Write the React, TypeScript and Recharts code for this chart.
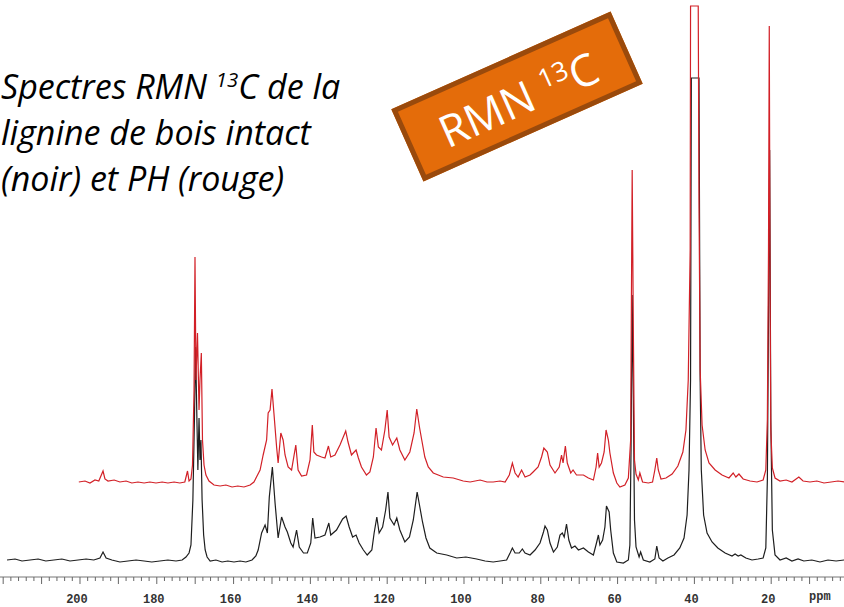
import React from 'react';
import { LineChart, Line, XAxis, YAxis } from 'recharts';

// 13C NMR spectra: [ppm, intensity above own baseline (a.u.)]
// intact wood lignin (black)
const BLACK: [number, number][] = [
  [219.0, 1], [216.9, 2], [215.1, 0], [213.0, 1], [210.9, 2], [208.9, 0], [206.8, 1], [204.7, 2],
  [202.6, 0], [200.5, 1], [198.4, 2], [196.4, 1], [194.8, 3], [194.0, 9], [193.2, 3], [191.7, 1],
  [189.6, -1], [187.5, 0], [185.4, 1], [183.3, 0], [181.3, -1], [179.2, 0], [177.1, 1], [175.0, 0],
  [173.4, 1], [172.4, 4], [171.6, 8], [171.1, 16], [170.6, 61], [170.2, 141], [169.9, 214], [169.5, 131],
  [169.3, 91], [169.0, 143], [168.75, 101], [168.5, 121], [168.2, 61], [167.8, 26], [167.4, 11], [166.9, 4],
  [166.1, 0], [164.6, 1], [163.0, -1], [161.5, 0], [159.9, -1], [158.3, 0], [156.8, -1], [155.2, 1],
  [154.2, 5], [153.6, 11], [152.7, 28], [151.8, 36], [151.2, 28], [150.7, 64], [149.9, 94], [149.2, 58],
  [148.4, 23], [147.5, 44], [146.6, 34], [146.0, 29], [145.1, 18], [144.5, 14], [143.6, 31], [142.9, 14],
  [141.8, 8], [140.8, 8], [139.9, 18], [139.4, 43], [138.8, 23], [137.5, 24], [136.2, 26], [135.2, 38],
  [134.7, 26], [133.2, 31], [131.6, 42], [130.7, 45], [129.9, 34], [129.0, 24], [128.1, 26], [127.3, 18],
  [126.2, 11], [125.2, 6], [124.0, 11], [123.4, 28], [122.7, 44], [122.1, 28], [121.2, 34], [120.4, 51],
  [119.8, 69], [119.3, 43], [118.2, 36], [117.5, 43], [116.7, 31], [115.4, 19], [114.2, 24], [113.2, 41],
  [112.2, 69], [111.5, 54], [110.8, 39], [109.9, 23], [108.9, 13], [107.1, 8], [104.5, 6], [101.9, 3],
  [99.5, 4], [96.7, 2], [94.5, 0], [92.4, -1], [90.6, 0], [88.9, 1], [88.0, 8], [87.4, 13],
  [86.7, 8], [85.6, 8], [84.8, 12], [84.1, 8], [82.8, 6], [81.5, 11], [80.2, 18], [79.3, 29],
  [78.9, 35], [78.3, 31], [77.6, 18], [76.7, 9], [75.7, 14], [75.0, 26], [74.4, 28], [73.9, 24],
  [73.3, 37], [72.7, 21], [72.0, 13], [71.1, 15], [70.2, 11], [68.9, 13], [67.6, 9], [66.3, 6],
  [65.5, 18], [65.0, 26], [64.6, 16], [63.9, 21], [63.3, 34], [62.9, 55], [62.2, 49], [61.8, 31],
  [61.1, 8], [60.2, -1], [58.5, -2], [57.2, 1], [56.8, 16], [56.5, 111], [56.2, 266], [55.9, 161],
  [55.6, 41], [55.2, 14], [54.4, 4], [54.0, 9], [53.3, 1], [51.6, -1], [50.3, 2], [49.8, 15],
  [49.2, 3], [48.2, 0], [46.9, 3], [45.3, 6], [43.8, 13], [42.7, 23], [41.9, 46], [41.4, 91],
  [41.0, 181], [40.8, 483], [38.8, 483], [38.5, 181], [38.2, 91], [37.6, 46], [36.7, 28], [35.4, 19],
  [33.9, 13], [32.0, 8], [30.2, 5], [29.4, 7], [28.6, 5], [27.9, 6], [26.6, 3], [25.0, 1],
  [23.4, 2], [22.1, 3], [21.4, 13], [21.0, 81], [20.4, 411], [20.1, 141], [19.7, 31], [19.0, 6],
  [17.7, 1], [16.1, 3], [14.6, 0], [13.0, 2], [11.5, 0], [9.4, 1], [7.3, -1], [5.2, 1],
  [3.1, 0], [1.0, 1],
];

// PH lignin (red)
const RED: [number, number][] = [
  [200.3, 0], [198.7, 1], [197.4, -1], [196.1, 2], [195.1, 1], [194.0, 11], [193.5, 3], [192.7, 1],
  [191.1, 2], [189.6, 0], [188.0, 1], [186.5, -1], [184.9, 0], [183.3, -1], [181.8, 0], [180.2, -1],
  [178.6, 0], [177.1, -1], [175.5, 0], [174.0, -1], [172.7, 0], [172.0, 11], [171.6, 1], [171.1, 3],
  [170.7, 17], [170.3, 92], [170.05, 225], [169.8, 102], [169.4, 149], [169.0, 72], [168.75, 102], [168.4, 129],
  [168.1, 42], [167.7, 17], [167.2, 7], [166.4, 1], [165.1, -3], [163.5, -4], [162.0, -3], [160.4, -5],
  [158.9, -4], [157.3, -5], [155.7, -3], [154.7, 0], [153.9, 6], [153.1, 12], [152.3, 27], [151.4, 42],
  [151.0, 69], [150.5, 72], [150.0, 93], [149.5, 69], [148.8, 35], [148.4, 19], [147.7, 49], [147.1, 42],
  [146.6, 27], [145.8, 15], [144.9, 12], [143.8, 37], [143.2, 12], [142.3, 6], [141.0, 7], [140.1, 22],
  [139.5, 57], [139.1, 30], [138.4, 27], [137.1, 25], [136.2, 24], [135.3, 36], [134.7, 25], [133.6, 27],
  [132.3, 37], [130.8, 51], [130.2, 40], [129.3, 27], [128.1, 32], [127.5, 24], [126.7, 15], [125.4, 7],
  [124.5, 10], [123.6, 25], [122.9, 54], [122.3, 35], [121.5, 32], [120.6, 52], [120.0, 72], [119.5, 45],
  [118.6, 37], [117.5, 44], [116.7, 32], [115.4, 22], [114.1, 30], [113.0, 49], [112.3, 73], [111.6, 55],
  [111.0, 42], [110.2, 25], [109.3, 15], [108.0, 9], [105.4, 5], [102.8, 4], [100.2, 1], [98.4, 0],
  [95.8, 2], [94.0, 0], [92.4, 0], [90.6, 1], [89.3, 0], [88.2, 7], [87.4, 19], [86.7, 9],
  [85.9, 5], [85.0, 12], [84.1, 5], [82.8, 7], [82.0, 10], [80.7, 15], [79.8, 25], [79.2, 34],
  [78.3, 30], [77.6, 17], [76.3, 9], [75.2, 15], [74.6, 27], [74.2, 19], [73.6, 36], [73.1, 19],
  [72.2, 9], [71.6, 12], [70.7, 7], [68.9, 7], [67.6, 4], [66.3, 2], [65.6, 15], [65.2, 29],
  [64.8, 15], [64.2, 19], [63.5, 30], [63.0, 52], [62.4, 42], [62.0, 29], [61.1, 9], [60.2, -1],
  [59.4, -5], [58.1, -3], [57.2, 4], [56.6, 42], [56.4, 182], [56.2, 312], [55.9, 152], [55.6, 22],
  [55.2, 8], [54.6, 2], [54.2, 9], [53.5, 0], [52.0, -1], [50.9, 0], [50.3, 12], [49.8, 24],
  [49.4, 12], [48.7, 3], [47.4, 4], [45.8, 8], [44.3, 16], [43.0, 30], [42.2, 52], [41.6, 102],
  [41.1, 232], [41.0, 476], [39.0, 476], [38.8, 282], [38.5, 112], [38.0, 57], [37.2, 32], [36.2, 19],
  [34.6, 12], [32.8, 7], [31.0, 4], [29.9, 9], [29.2, 5], [28.4, 8], [27.3, 3], [25.5, 1],
  [23.7, 0], [22.1, 2], [21.4, 12], [21.0, 62], [20.7, 232], [20.5, 456], [20.3, 202], [20.1, 52],
  [19.7, 14], [19.0, 4], [17.7, 1], [16.1, 2], [14.6, 0], [12.8, 5], [11.7, 1], [9.9, 0],
  [8.1, 1], [6.25, -1], [4.4, 0], [2.6, 1], [1.0, 0],
];

// vertical stacking of the two traces (a.u.)
const BLACK_OFFSET = 16;
const RED_OFFSET = 95;

const PPM_LABELS = [200, 180, 160, 140, 120, 100, 80, 60, 40, 20];
const PPM_DOMAIN: [number, number] = [1.04, 220.83];

const minorTicks: number[] = [];
for (let p = 2; p <= 220; p += 2) minorTicks.push(p);

const blackData = BLACK.map(([ppm, v]) => ({ ppm, v: v + BLACK_OFFSET }));
const redData = RED.map(([ppm, v]) => ({ ppm, v: v + RED_OFFSET }));

const PpmTick = (props: any) => {
  const { x, y, payload } = props;
  const val = payload.value;
  const major = val % 10 === 0;
  const labelled = PPM_LABELS.includes(val);
  return (
    <g>
      <line x1={x} x2={x} y1={y} y2={y + (major ? 7 : 4)} stroke="#666" strokeWidth={1} />
      {labelled && (
        <text
          x={x - 3}
          y={y + 26}
          textAnchor="middle"
          fontFamily="'Liberation Mono', 'DejaVu Sans Mono', monospace"
          fontWeight="bold"
          fontSize={12}
          fill="#333"
        >
          {val}
        </text>
      )}
    </g>
  );
};

export default function App() {
  return (
    <div style={{ position: 'absolute', left: 0, top: 0, width: 844, height: 607, background: '#fff', overflow: 'hidden' }}>
      <LineChart width={844} height={607} margin={{ top: 0, right: 0, bottom: 0, left: 0 }}>
        <XAxis
          type="number"
          dataKey="ppm"
          domain={PPM_DOMAIN}
          reversed
          allowDataOverflow
          ticks={minorTicks}
          interval={0}
          tick={<PpmTick />}
          tickLine={false}
          tickSize={0}
          tickMargin={0}
          height={30}
          axisLine={{ stroke: '#777', strokeWidth: 1 }}
        />
        <YAxis type="number" domain={[0, 577]} hide allowDataOverflow />
        <Line
          data={blackData}
          dataKey="v"
          type="linear"
          stroke="#1e1e1e"
          strokeWidth={1.2}
          dot={false}
          activeDot={false}
          isAnimationActive={false}
        />
        <Line
          data={redData}
          dataKey="v"
          type="linear"
          stroke="#d22027"
          strokeWidth={1.2}
          dot={false}
          activeDot={false}
          isAnimationActive={false}
        />
      </LineChart>

      <div
        style={{
          position: 'absolute',
          left: 809,
          top: 590,
          fontFamily: "'Liberation Mono', monospace",
          fontWeight: 'bold',
          fontSize: 12,
          color: '#333',
        }}
      >
        ppm
      </div>

      <div
        style={{
          position: 'absolute',
          left: 1,
          top: 63,
          fontFamily: "'Open Sans', sans-serif",
          fontStyle: 'italic',
          fontSize: 34,
          lineHeight: '46px',
          color: '#000',
          whiteSpace: 'nowrap',
        }}
      >
        Spectres RMN <sup style={{ fontSize: '0.6em', lineHeight: 0 }}>13</sup>C de la
        <br />
        lignine de bois intact
        <br />
        (noir) et PH (rouge)
      </div>

      <div
        style={{
          position: 'absolute',
          left: 397,
          top: 57,
          width: 240,
          height: 79,
          boxSizing: 'border-box',
          border: '5px solid #9a4a0c',
          background: '#e46c0a',
          transform: 'rotate(-24deg)',
          display: 'flex',
          alignItems: 'center',
          justifyContent: 'center',
          color: '#fff',
          fontFamily: "'Open Sans', sans-serif",
          fontSize: 44,
          whiteSpace: 'nowrap',
        }}
      >
        <span style={{ marginTop: 4 }}>
          RMN <sup style={{ fontSize: '0.6em', lineHeight: 0 }}>13</sup>C
        </span>
      </div>
    </div>
  );
}
